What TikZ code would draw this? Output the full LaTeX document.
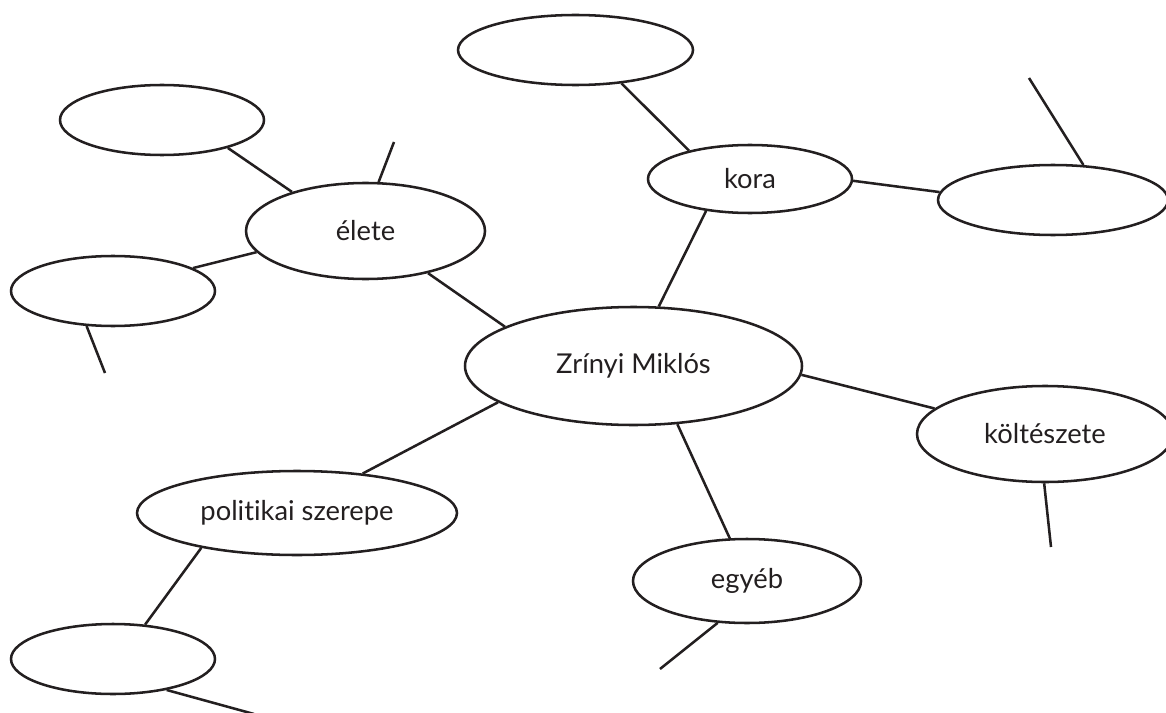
\documentclass[tikz,border=0pt]{standalone}
\usepackage{fontspec}
\setmainfont{Lato}[Ligatures=NoCommon]
\usetikzlibrary{shapes.geometric}
\definecolor{ink}{HTML}{231F20}
\begin{document}
\begin{tikzpicture}[x=0.75pt,y=-0.75pt,
  bubble/.style n args={2}{ellipse,draw=ink,line width=1.9pt,inner sep=0pt,
    minimum width=#1*1.5pt,minimum height=#2*1.5pt,
    text=ink,font=\fontsize{20.5}{24}\selectfont},
  link/.style={draw=ink,line width=1.9pt}]
\useasboundingbox (0,0) rectangle (1166,713);

% bubbles: centre, half-width, half-height (in px units)
\node[bubble={117.5}{35}] (top)    at (575.5,50)  {};
\node[bubble={102}{35}]   (tl)     at (162,120)   {};
\node[bubble={102}{35}]   (left)   at (113,291)   {};
\node[bubble={102}{35}]   (bl)     at (113,659)   {};
\node[bubble={115}{35}]   (right)  at (1053,200)  {};
\node[bubble={119.5}{48}] (elete)  at (365.5,231) {élete};
\node[bubble={102}{34}]   (kora)   at (750,179)   {kora};
\node[bubble={168.5}{59}] (zrinyi) at (633.5,366) {Zrínyi Miklós};
\node[bubble={128}{48}]   (kolt)   at (1045,434)  {költészete};
\node[bubble={160}{42}]   (pol)    at (297,513)   {politikai szerepe};
\node[bubble={114}{42}]   (egy)    at (747,581)   {egyéb};

% free ends of the open branches
\coordinate (rEnd)    at (1029,78);
\coordinate (eEnd)    at (394,142);
\coordinate (lEnd)    at (105,373);
\coordinate (kEnd)    at (1051,547);
\coordinate (gEnd)    at (660,669);
\coordinate (bEnd)    at (254,714);

% connectors between bubbles
\draw[link] (top.-36.6)    -- (kora.155);
\draw[link] (kora.-144.3)  -- (zrinyi.67.1);
\draw[link] (kora.-1.1)    -- (right.176.4);
\draw[link] (elete.152.4)  -- (tl.-23.6);
\draw[link] (elete.-169.9) -- (left.16.9);
\draw[link] (elete.-34.5)  -- (zrinyi.163.5);
\draw[link] (zrinyi.-3.8)  -- (kolt.167.7);
\draw[link] (zrinyi.-165.2)-- (pol.31.2);
\draw[link] (zrinyi.-53)   -- (egy.112);
\draw[link] (pol.-160.3)   -- (bl.47.7);

% open branches
\draw[link] (right.49.5)   -- (rEnd);
\draw[link] (elete.75.7)   -- (eEnd);
\draw[link] (left.-127.4)  -- (lEnd);
\draw[link] (kolt.-91)     -- (kEnd);
\draw[link] (egy.-125.5)   -- (gEnd);
\draw[link] (bl.-30)       -- (bEnd);
\end{tikzpicture}
\end{document}
